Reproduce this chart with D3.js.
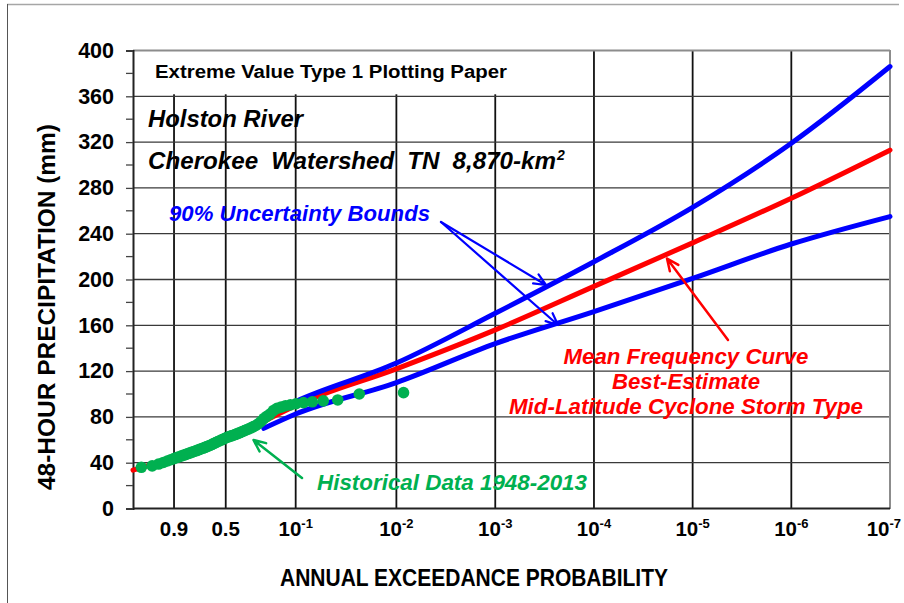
<!DOCTYPE html>
<html>
<head>
<meta charset="utf-8">
<script src="https://cdn.jsdelivr.net/npm/d3@7"></script>
<style>
  html, body { margin: 0; padding: 0; background: #fff; }
  svg { display: block; }
  text { font-family: "Liberation Sans", Arial, sans-serif; }
</style>
</head>
<body>
<svg id="chart" width="904" height="603"></svg>
<script>
// ---------------- data ----------------
// y axis ticks (mm)
const yTicks = [0, 40, 80, 120, 160, 200, 240, 280, 320, 360, 400];
const yMinorTicks = [20, 60, 100, 140, 180, 220, 260, 300, 340, 380];

// x axis: annual exceedance probabilities on EV1 plotting paper
const xTickAep = [0.9, 0.5, 0.1, 0.01, 1e-3, 1e-4, 1e-5, 1e-6, 1e-7];
const xTickLabels = ["0.9", "0.5", "10^-1", "10^-2", "10^-3", "10^-4", "10^-5", "10^-6", "10^-7"];

// mean frequency curve (best estimate)
const meanAep    = [0.9968, 0.9, 0.5, 0.22, 0.1, 0.01, 1e-3, 1e-4, 1e-5, 1e-6, 1e-7];
const meanValues = [33.5, 44.5, 61, 76, 90, 122, 156, 194, 232, 271, 313];

// 90% uncertainty bounds
const boundAep    = [0.22, 0.1, 0.01, 1e-3, 1e-4, 1e-5, 1e-6, 1e-7];
const upperValues = [80, 93.5, 127, 170.5, 215.5, 263, 319, 386];
const lowerValues = [70, 82.5, 110, 144, 172, 201, 231, 255];

// annual maximum 48-hour precipitation 1948-2013, ranked largest first (mm)
const histValues = [
  101.2, 100, 94.8, 94, 93.2, 92.5, 91.5, 90.5, 89.8, 88.5,
  87.5, 85.5, 82.5, 80.5, 78.5, 76, 74, 72.5, 71.5, 70.5,
  69.5, 68.8, 68, 67.3, 66.5, 65.8, 65.2, 64.6, 64, 63.5,
  63, 62.5, 62, 61.2, 60.5, 59.8, 59, 58.3, 57.5, 56.8,
  56, 55.3, 54.6, 54, 53.4, 52.8, 52.2, 51.6, 51, 50.4,
  49.8, 49.2, 48.6, 48, 47.3, 46.6, 46, 45.2, 44.5, 43.6,
  42.6, 41.5, 40.2, 38.8, 37.2, 36
];

// ---------------- layout ----------------
const plot = { left: 133, right: 890, top: 50.5, bottom: 508.5 };
const BLUE = "#0000ff", RED = "#ff0000", GREEN = "#00b050";

// Gumbel reduced variate of an exceedance probability
const gumbel = p => -Math.log(-Math.log(1 - p));

// plotting-paper x scale: linear in the reduced variate, with the
// high-probability end pinned to the paper's printed rulings
const paperAep  = [0.9968, 0.9, 0.5, 0.1, 1e-7];
const paperFrac = [0, 0.0542, 0.1225, 0.2149, 1];
const xv = d3.scaleLinear()
  .domain(paperAep.map(gumbel))
  .range(paperFrac.map(f => plot.left + f * (plot.right - plot.left)));
const x = p => xv(gumbel(p));

const y = d3.scaleLinear().domain([0, 400]).range([plot.bottom, plot.top]);

const svg = d3.select("#chart");

// outer frame
svg.append("line").attr("x1", 7).attr("x2", 899).attr("y1", 4.5).attr("y2", 4.5)
  .attr("stroke", "#a6a6a6").attr("stroke-width", 1.5);
svg.append("line").attr("x1", 7.5).attr("x2", 7.5).attr("y1", 4).attr("y2", 603)
  .attr("stroke", "#555").attr("stroke-width", 1);

// vertical rulings
const grid = svg.append("g");
grid.selectAll("line.v").data(xTickAep).join("line")
  .attr("class", "v")
  .attr("x1", d => x(d)).attr("x2", d => x(d))
  .attr("y1", plot.top).attr("y2", plot.bottom)
  .attr("stroke", "#111").attr("stroke-width", 1.8);

// title box blanks the top row of the left rulings
grid.append("rect")
  .attr("x", plot.left + 1).attr("y", plot.top)
  .attr("width", 425).attr("height", y(360) - plot.top - 2)
  .attr("fill", "#fff");

// horizontal rulings
grid.selectAll("line.h").data(yTicks.filter(d => d > 0 && d < 400)).join("line")
  .attr("class", "h")
  .attr("x1", plot.left).attr("x2", plot.right)
  .attr("y1", d => y(d)).attr("y2", d => y(d))
  .attr("stroke", "#3a3a3a").attr("stroke-width", 1.3);

// plot borders
grid.append("line").attr("x1", plot.left).attr("x2", plot.right)
  .attr("y1", plot.top).attr("y2", plot.top).attr("stroke", "#8c8c8c").attr("stroke-width", 2);
grid.append("line").attr("x1", plot.right).attr("x2", plot.right)
  .attr("y1", plot.top).attr("y2", plot.bottom).attr("stroke", "#8c8c8c").attr("stroke-width", 2);

// y axis
const yAxis = d3.axisLeft(y).tickValues(yTicks).tickSize(7).tickPadding(12).tickFormat(d3.format("d"));
const gy = svg.append("g").attr("transform", `translate(${plot.left},0)`).call(yAxis);
gy.select(".domain").attr("stroke", "#222").attr("stroke-width", 2);
gy.selectAll(".tick line").attr("stroke", "#444").attr("stroke-width", 1.3);
gy.selectAll(".tick text")
  .attr("font-family", "Liberation Sans, Arial, sans-serif")
  .attr("font-size", 21.5).attr("font-weight", "bold").attr("fill", "#000");
gy.selectAll(".minor").data(yMinorTicks).join("line")
  .attr("class", "minor")
  .attr("x1", -7).attr("x2", 0)
  .attr("y1", d => y(d)).attr("y2", d => y(d))
  .attr("stroke", "#444").attr("stroke-width", 1.3);

// x axis base line
svg.append("line").attr("x1", plot.left).attr("x2", plot.right)
  .attr("y1", plot.bottom).attr("y2", plot.bottom)
  .attr("stroke", "#222").attr("stroke-width", 2);

// x tick labels (powers of ten drawn with superscripts)
const xLab = svg.append("g");
xTickAep.forEach((p, i) => {
  const lab = xTickLabels[i];
  const t = xLab.append("text")
    .attr("y", 535.5).attr("font-size", 20.5).attr("font-weight", "bold")
    .attr("text-anchor", "middle").attr("fill", "#000");
  if (lab.includes("^")) {
    const [base, exp] = lab.split("^");
    t.append("tspan").text(base);
    t.append("tspan").attr("font-size", 13).attr("dy", -8).text(exp);
  } else {
    t.text(lab);
  }
  const w = t.node().getComputedTextLength();
  t.attr("x", Math.min(x(p), 901 - w / 2));
});

// axis titles
svg.append("text")
  .attr("transform", "translate(55,307) rotate(-90)")
  .attr("text-anchor", "middle").attr("font-size", 23.5).attr("font-weight", "bold")
  .attr("textLength", 366).attr("lengthAdjust", "spacingAndGlyphs")
  .text("48-HOUR  PRECIPITATION (mm)");
svg.append("text")
  .attr("x", 474).attr("y", 585.5)
  .attr("text-anchor", "middle").attr("font-size", 23).attr("font-weight", "bold")
  .attr("textLength", 388).attr("lengthAdjust", "spacingAndGlyphs")
  .text("ANNUAL  EXCEEDANCE PROBABILITY");

// ---------------- curves ----------------
const line = d3.line().x(d => x(d[0])).y(d => y(d[1])).curve(d3.curveMonotoneX);
const curves = svg.append("g").attr("fill", "none")
  .attr("stroke-width", 5).attr("stroke-linecap", "round").attr("stroke-linejoin", "round");
curves.append("path").attr("stroke", RED)
  .attr("d", line(d3.zip(meanAep, meanValues)));
curves.append("path").attr("stroke", BLUE)
  .attr("d", line(d3.zip(boundAep, upperValues)));
curves.append("path").attr("stroke", BLUE)
  .attr("d", line(d3.zip(boundAep, lowerValues)));

// historical data at Gringorten plotting positions
const n = histValues.length;
svg.append("g").selectAll("circle").data(histValues).join("circle")
  .attr("cx", (d, i) => x((i + 1 - 0.44) / (n + 0.12)))
  .attr("cy", d => y(d))
  .attr("r", 5.8)
  .attr("fill", GREEN);

// ---------------- annotations ----------------
function arrow(x1, y1, x2, y2, color, w) {
  const a = Math.atan2(y2 - y1, x2 - x1), L = 13, s = 0.42;
  const p = d3.path();
  p.moveTo(x1, y1); p.lineTo(x2, y2);
  p.moveTo(x2 - L * Math.cos(a - s), y2 - L * Math.sin(a - s));
  p.lineTo(x2, y2);
  p.lineTo(x2 - L * Math.cos(a + s), y2 - L * Math.sin(a + s));
  svg.append("path").attr("d", p.toString())
    .attr("fill", "none").attr("stroke", color).attr("stroke-width", w)
    .attr("stroke-linecap", "round").attr("stroke-linejoin", "round");
}

svg.append("text")
  .attr("x", 155).attr("y", 78)
  .attr("font-size", 17.5).attr("font-weight", "bold")
  .attr("textLength", 352).attr("lengthAdjust", "spacingAndGlyphs")
  .text("Extreme Value Type 1 Plotting Paper");

const capt = "'Open Sans', 'Noto Sans', sans-serif";
svg.append("text")
  .attr("x", 148).attr("y", 127)
  .attr("font-family", capt).attr("font-style", "italic").attr("font-weight", "bold")
  .attr("font-size", 23)
  .attr("textLength", 155).attr("lengthAdjust", "spacingAndGlyphs")
  .text("Holston River");
svg.append("text")
  .attr("x", 148).attr("y", 168.5)
  .attr("font-family", capt).attr("font-style", "italic").attr("font-weight", "bold")
  .attr("font-size", 23).attr("word-spacing", 6)
  .attr("textLength", 408).attr("lengthAdjust", "spacingAndGlyphs")
  .text("Cherokee Watershed TN  8,870-km");
svg.append("text")
  .attr("x", 557).attr("y", 160)
  .attr("font-family", capt).attr("font-style", "italic").attr("font-weight", "bold")
  .attr("font-size", 14)
  .text("2");

svg.append("text")
  .attr("x", 169).attr("y", 220.5)
  .attr("font-size", 21.5).attr("font-weight", "bold").attr("font-style", "italic")
  .attr("fill", BLUE)
  .attr("textLength", 261).attr("lengthAdjust", "spacingAndGlyphs")
  .text("90% Uncertainty Bounds");
arrow(441, 222, 546, 285, BLUE, 2.2);
arrow(441, 222, 558, 325, BLUE, 2.2);

const redLines = ["Mean Frequency Curve", "Best-Estimate", "Mid-Latitude Cyclone Storm Type"];
const redWidths = [245, 148, 354];
redLines.forEach((s, i) => {
  svg.append("text")
    .attr("x", 686).attr("y", 363.5 + i * 25)
    .attr("text-anchor", "middle")
    .attr("font-size", 22).attr("font-weight", "bold").attr("font-style", "italic")
    .attr("fill", RED)
    .attr("textLength", redWidths[i]).attr("lengthAdjust", "spacingAndGlyphs")
    .text(s);
});
arrow(728, 340, 667, 258.5, RED, 2.5);

svg.append("text")
  .attr("x", 317).attr("y", 490)
  .attr("font-size", 22).attr("font-weight", "bold").attr("font-style", "italic")
  .attr("fill", GREEN)
  .attr("textLength", 270).attr("lengthAdjust", "spacingAndGlyphs")
  .text("Historical Data 1948-2013");
arrow(302, 478, 253.5, 440, GREEN, 2.5);
</script>
</body>
</html>
